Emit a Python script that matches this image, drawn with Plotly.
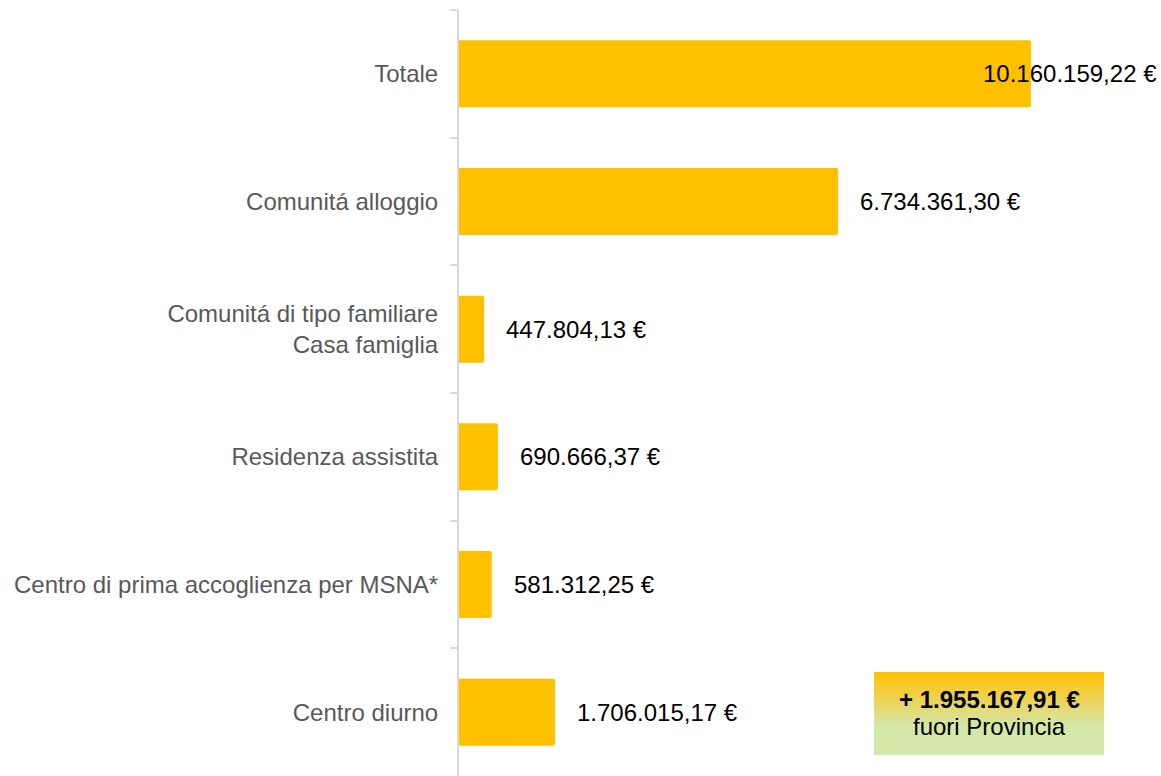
import plotly.graph_objects as go

categories = ['Totale', 'Comunitá alloggio', 'Comunitá di tipo familiare<br>Casa famiglia',
              'Residenza assistita', 'Centro di prima accoglienza per MSNA*', 'Centro diurno']
values = [10160159.22, 6734361.30, 447804.13, 690666.37, 581312.25, 1706015.17]
value_labels = ['10.160.159,22 €', '6.734.361,30 €', '447.804,13 €',
                '690.666,37 €', '581.312,25 €', '1.706.015,17 €']
extra_value = '+ 1.955.167,91 €'
extra_label = 'fuori Provincia'

FONT = 'Liberation Sans, Arial, sans-serif'

fig = go.Figure()

fig.add_trace(go.Bar(
    x=values, y=categories, orientation='h',
    marker=dict(color='#FFC000', cornerradius=2, line=dict(width=0)),
    hoverinfo='skip', showlegend=False,
))

# value labels next to the bars (the longest one overlaps its bar)
for cat, v, lab in zip(categories, values, value_labels):
    shift = -50 if v == max(values) else 20
    fig.add_annotation(x=v, y=cat, xref='x', yref='y', text=lab, showarrow=False,
                       xanchor='left', xshift=shift,
                       font=dict(family=FONT, size=24, color='#000000'))

# gradient box "fuori Provincia" on an invisible overlay axis
bx = [0.5912, 0.9188, 0.9188, 0.5912, 0.5912]
by = [0.0274, 0.0274, 0.1358, 0.1358, 0.0274]
fig.add_trace(go.Scatter(
    x=bx, y=by, xaxis='x2', yaxis='y2', mode='lines', fill='toself',
    line=dict(width=0),
    fillgradient=dict(type='vertical',
                      colorscale=[[0, '#d3e8a9'], [0.35, '#d3e8a9'], [0.65, '#ecd45a'], [1, '#ffc000']]),
    hoverinfo='skip', showlegend=False,
))
fig.add_annotation(x=0.755, y=0.1005, xref='x2', yref='y2', showarrow=False,
                   text='<b>' + extra_value + '</b>',
                   font=dict(family=FONT, size=24, color='#000000'))
fig.add_annotation(x=0.755, y=0.064, xref='x2', yref='y2', showarrow=False,
                   text=extra_label,
                   font=dict(family=FONT, size=24, color='#000000'))

fig.update_layout(
    width=1161, height=776,
    margin=dict(l=459, r=0, t=10, b=0, autoexpand=False),
    paper_bgcolor='white', plot_bgcolor='white',
    bargap=0.475,
    font=dict(family=FONT, size=24, color='#595959'),
    xaxis=dict(range=[0, 12470000], visible=False, fixedrange=True),
    yaxis=dict(
        autorange='reversed', type='category',
        showline=True, linecolor='#d9d9d9', linewidth=2,
        ticks='outside', tickson='boundaries', ticklen=7, tickcolor='#d9d9d9', tickwidth=2,
        showgrid=False, zeroline=False,
        tickfont=dict(family=FONT, size=24, color='#595959'),
        ticklabelstandoff=14,
        automargin=False,
    ),
    xaxis2=dict(overlaying='x', range=[0, 1], visible=False, fixedrange=True),
    yaxis2=dict(overlaying='y', range=[0, 1], visible=False, fixedrange=True),
)

fig.write_html('out.html', config={'displayModeBar': False},
               post_script="document.body.style.margin='0';")
